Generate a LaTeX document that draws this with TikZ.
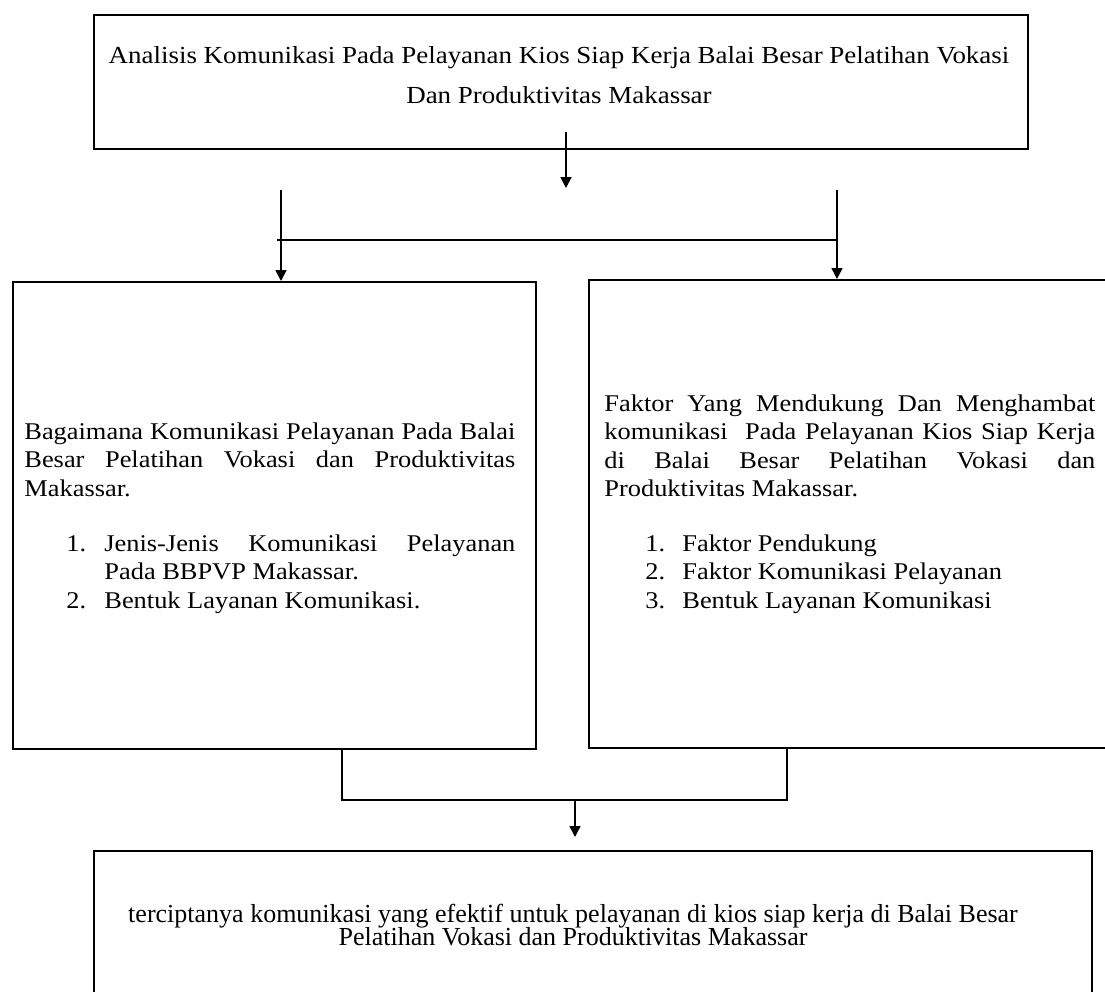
\documentclass[tikz,border=0pt]{standalone}
\usepackage{fontspec}
\setmainfont{Liberation Serif}[FakeStretch=1.1]
\newfontfamily\tnrfont{Liberation Serif}
\usepackage{tikz}
\usetikzlibrary{arrows.meta,calc}

\begin{document}
\begin{tikzpicture}[x=0.5pt,y=-0.5pt,
  kotak/.style={draw,line width=0.8pt,inner sep=0pt,anchor=north west},
  teks/.style={inner sep=0pt,font=\fontsize{12}{14.25}\selectfont},
  paragraf/.style={teks,anchor=base west,text width=245.5pt,align=justify},
  garis/.style={line width=0.8pt},
  panah/.style={line width=0.8pt,-{Triangle[width=5.5pt,length=5.5pt]}}]
\useasboundingbox (0,0) rectangle (1105,992);
\node[kotak,minimum width=467pt,minimum height=67pt] (judul) at (93,14) {};
\node[kotak,minimum width=261.5pt,minimum height=233.5pt] (kiri) at (12,281) {};
\node[kotak,minimum width=280pt,minimum height=234pt] (kanan) at (588,279) {};
\node[kotak,minimum width=499pt,minimum height=90pt] (hasil) at (93,850) {};

\node[teks,font=\fontsize{12.25}{14.25}\selectfont,anchor=base] (judul1) at (559,63) {Analisis Komunikasi Pada Pelayanan Kios Siap Kerja Balai Besar Pelatihan Vokasi};
\node[teks,font=\fontsize{12.25}{14.25}\selectfont,anchor=base] (judul2) at (559,103) {Dan Produktivitas Makassar};

\node[paragraf] (rumusan1) at (24,439) {Bagaimana Komunikasi Pelayanan Pada Balai\linebreak Besar Pelatihan Vokasi dan Produktivitas\linebreak Makassar.};
\node[teks,anchor=base west] (no11) at (66,551) {1.};
\node[paragraf,text width=205.5pt] (poin11) at (104,551) {Jenis-Jenis Komunikasi Pelayanan\linebreak Pada BBPVP Makassar.};
\node[teks,anchor=base west] (no12) at (66,608) {2.};
\node[teks,anchor=base west] (poin12) at (104,608) {Bentuk Layanan Komunikasi.};

\node[paragraf] (rumusan2) at (604,411) {Faktor Yang Mendukung Dan Menghambat\linebreak komunikasi\ \ Pada Pelayanan Kios Siap Kerja\linebreak di Balai Besar Pelatihan Vokasi dan\linebreak Produktivitas Makassar.};
\node[teks,anchor=base west] (no21) at (645,551) {1.};
\node[teks,anchor=base west] (poin21) at (682,551) {Faktor Pendukung};
\node[teks,anchor=base west] (no22) at (645,579) {2.};
\node[teks,anchor=base west] (poin22) at (682,579) {Faktor Komunikasi Pelayanan};
\node[teks,anchor=base west] (no23) at (645,608) {3.};
\node[teks,anchor=base west] (poin23) at (682,608) {Bentuk Layanan Komunikasi};

\node[teks,font=\tnrfont\fontsize{13}{11.5}\selectfont,anchor=base] (hasil1) at (573,922) {terciptanya komunikasi yang efektif untuk pelayanan di kios siap kerja di Balai Besar};
\node[teks,font=\tnrfont\fontsize{13}{11.5}\selectfont,anchor=base] (hasil2) at (573,945) {Pelatihan Vokasi dan Produktivitas Makassar};

\coordinate (a0) at (566,132);
\coordinate (a1) at (566,188);
\coordinate (c1) at (281,190);
\coordinate (c2) at (837,190);
\coordinate (h1) at (277,240);
\coordinate (h2) at (837,240);
\coordinate (b1) at (342,800);
\coordinate (b2) at (787,800);
\coordinate (b3) at (575,800);
\coordinate (b4) at (575,837);

\draw[panah] (a0) -- (a1);
\draw[garis] (h1) -- (h2);
\draw[panah] (c1) -- (c1 |- kiri.north);
\draw[panah] (c2) -- (c2 |- kanan.north);
\draw[garis] (b1 |- kiri.south) -- (b1) -- (b2) -- (b2 |- kanan.south);
\draw[panah] (b3) -- (b4);
\end{tikzpicture}
\end{document}
